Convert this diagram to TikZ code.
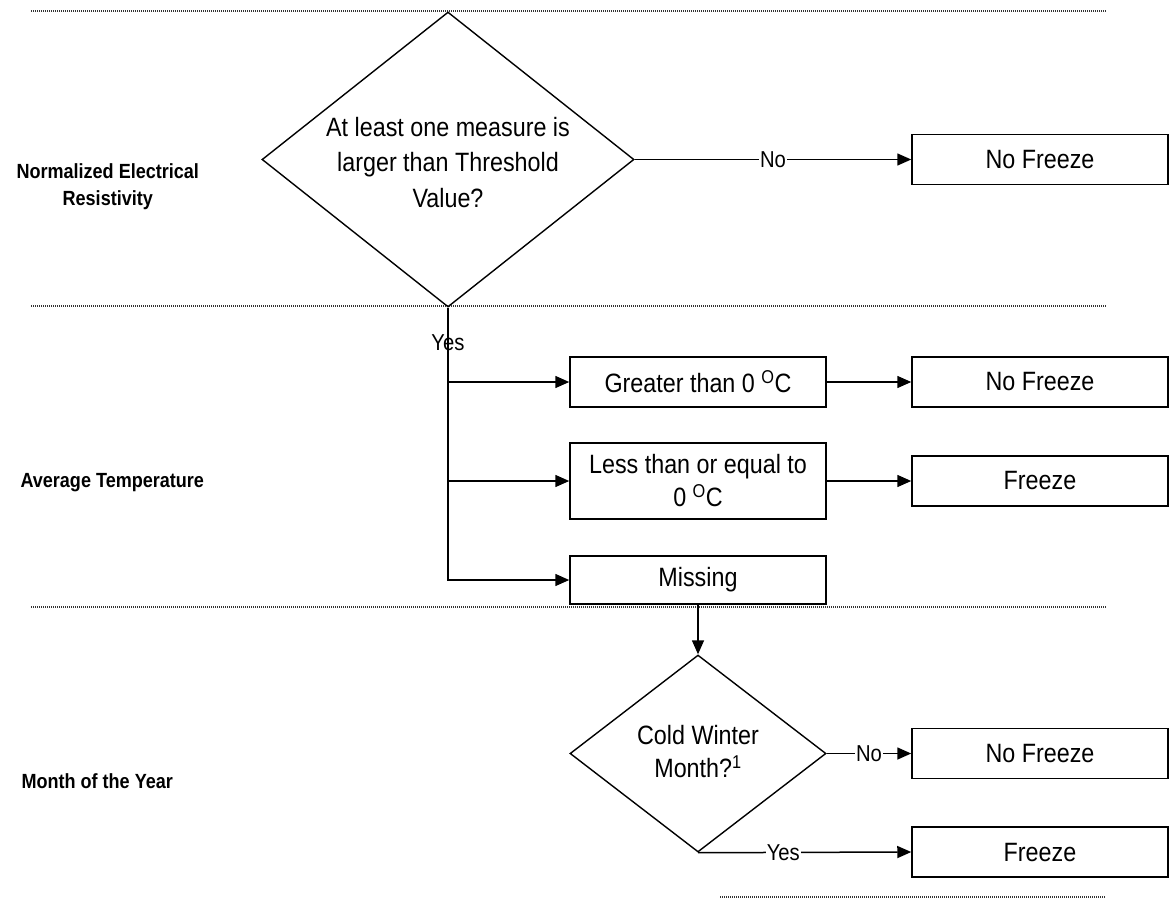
\documentclass[tikz,border=0pt]{standalone}
\usepackage{fontspec}
\setmainfont{Liberation Sans}[FakeStretch=0.88]
\usetikzlibrary{shapes.geometric,arrows.meta}
\newcommand\dgNodeFont{\fontsize{26.5}{33}\selectfont}
\newcommand\dgNodeFontB{\fontsize{26.5}{35.5}\selectfont}
\newcommand\dgLabFont{\fontsize{23}{27}\selectfont}
\newcommand\dgSideFont{\fontsize{20.5}{27}\selectfont\bfseries}
\begin{document}
\begin{tikzpicture}[x=1pt,y=-1pt,
  box/.style={draw, line width=1.5pt, minimum width=256pt, minimum height=50pt, inner sep=0pt, align=center, font=\dgNodeFont},
  dia/.style={draw, diamond, line width=1.4pt, inner sep=0pt},
  arr/.style={line width=1.5pt, -{Triangle[length=14pt,width=12pt]}},
  sep/.style={line width=1.1pt, black!80, dash pattern=on 1pt off 1pt},
  lab/.style={font=\dgLabFont, fill=white, inner sep=1pt},
  side/.style={font=\dgSideFont, align=center, anchor=west}]
\useasboundingbox (0,0) rectangle (1169,900);

% separators
\draw[sep] (31,11) -- (1107,11);
\draw[sep] (31,306) -- (1107,306);
\draw[sep] (31,607) -- (1107,607);
\draw[sep] (720,897) -- (1105,897);

% side labels
\node[side] (l1) at (13,186.5) {Normalized Electrical\\Resistivity};
\node[side] (l2) at (17,483) {Average Temperature};
\node[side] (l3) at (18,781) {Month of the Year};

% first decision
\node[dia, minimum width=372pt, minimum height=295pt] (q1) at (448,159.5) {};
\node[font=\dgNodeFontB, align=center] (q1t) at (448,162.5) {At least one measure is\\larger than Threshold\\Value?};
\node[box] (nf1) at (1040,159.5) {No Freeze};
\draw[arr] (q1.east) -- node[lab]{No} (nf1.west);

% temperature boxes
\node[box] (b1) at (698,382) {Greater than 0 \textsuperscript{O}C};
\node[box, minimum height=76pt] (b2) at (698,481) {Less than or equal to\\0 \textsuperscript{O}C};
\node[box, minimum height=48pt] (b3) at (698,580) {Missing};
\node[box] (nf2) at (1040,382) {No Freeze};
\node[box] (fz2) at (1040,481) {Freeze};

\draw[arr] (q1.south) |- (b3.west);
\draw[arr] (q1.south |- b1.west) -- (b1.west);
\draw[arr] (q1.south |- b2.west) -- (b2.west);
\node[font=\dgLabFont] (yes1) at (448,343) {Yes};
\draw[arr] (b1.east) -- (nf2.west);
\draw[arr] (b2.east) -- (fz2.west);

% second decision
\node[dia, minimum width=256pt, minimum height=197pt] (q2) at (698,753.5) {};
\node[font=\dgNodeFont, align=center] (q2t) at (698,752) {Cold Winter\\Month?\textsuperscript{1}};
\draw[arr] (b3.south) -- (q2.north);
\node[box] (nf3) at (1040,753.5) {No Freeze};
\node[box] (fz3) at (1040,852) {Freeze};
\draw[arr] (q2.east) -- node[lab]{No} (nf3.west);
\draw[arr] (q2.south) -- node[lab, pos=0.4]{Yes} (fz3.west);
\end{tikzpicture}
\end{document}
